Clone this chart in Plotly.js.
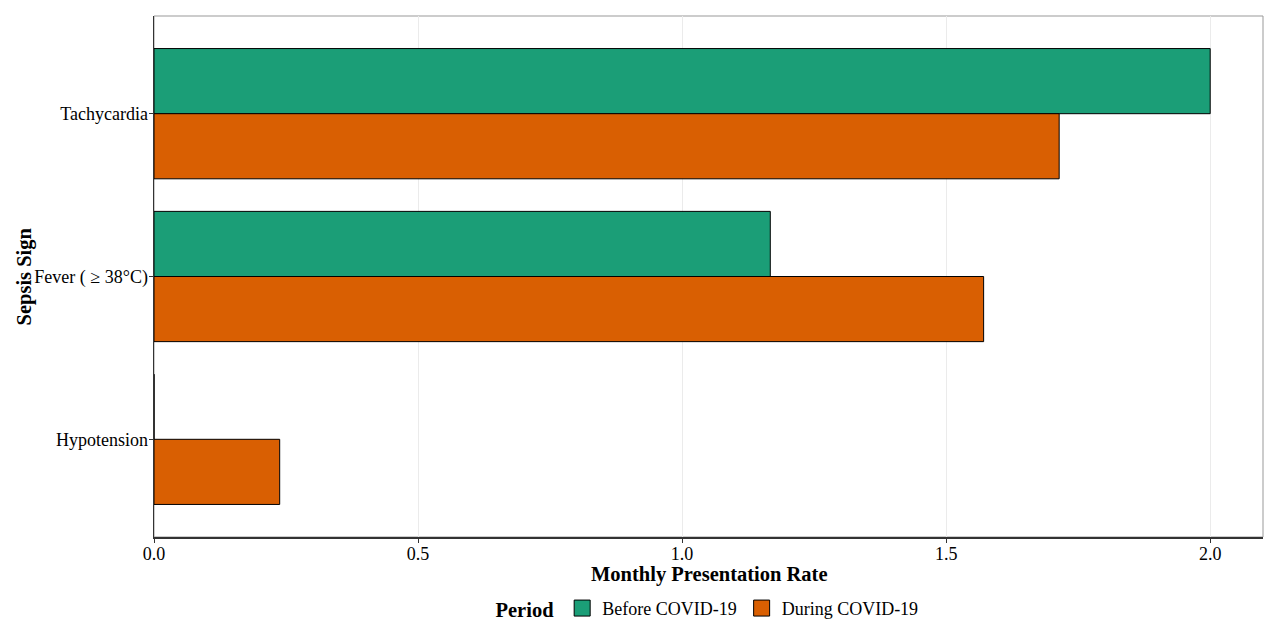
<!DOCTYPE html>
<html>
<head>
<meta charset="utf-8">
<script src="https://cdn.plot.ly/plotly-3.0.1.min.js"></script>
<style>html,body{margin:0;padding:0;background:#fff}#chart{width:1280px;height:640px}</style>
</head>
<body>
<div id="chart"></div>
<script>
const categories = ["Tachycardia", "Fever ( \u2265 38\u00b0C)", "Hypotension"];
const beforeCovid = [2.0, 1.167, 0];
const duringCovid = [1.714, 1.571, 0.238];
const seriesNames = ["Before COVID-19", "During COVID-19"];
const seriesColors = ["#1b9e77", "#d95f02"];
const xTicks = [0, 0.5, 1.0, 1.5, 2.0];
const xTickLabels = ["0.0", "0.5", "1.0", "1.5", "2.0"];
const xTitle = "Monthly Presentation Rate";
const yTitle = "Sepsis Sign";
const legendTitle = "Period";

const font = "Liberation Serif, Times New Roman, serif";

const traces = [beforeCovid, duringCovid].map((vals, i) => ({
  type: "bar",
  orientation: "h",
  name: seriesNames[i],
  y: categories,
  x: vals,
  marker: {color: seriesColors[i], line: {color: "#000", width: 1}},
  showlegend: false,
  hoverinfo: "x+y+name"
}));

// legend keys (square swatches like the reference)
seriesNames.forEach((nm, i) => {
  traces.push({
    type: "scatter", mode: "markers", name: nm,
    x: [null], y: [null],
    marker: {symbol: "square", size: 16, color: seriesColors[i], line: {color: "#000", width: 1}},
    showlegend: true, hoverinfo: "skip"
  });
});

const layout = {
  width: 1280, height: 640,
  margin: {l: 154, r: 17, t: 16, b: 103},
  paper_bgcolor: "#fff", plot_bgcolor: "#fff",
  font: {family: font, size: 18, color: "#000"},
  barmode: "group",
  bargap: 0.2,
  bargroupgap: 0,
  xaxis: {
    range: [0, 2.1],
    tickvals: xTicks, ticktext: xTickLabels,
    showgrid: true, gridcolor: "#ebebeb", gridwidth: 1,
    zeroline: false,
    showline: true, linecolor: "#333", linewidth: 1.5,
    ticks: "outside", ticklen: 4, tickcolor: "#333", tickwidth: 1,
    ticklabelstandoff: -4,
    tickfont: {family: font, size: 18, color: "#000"}
  },
  yaxis: {
    type: "category",
    categoryorder: "array", categoryarray: categories,
    range: [2.6, -0.6],
    showgrid: false, zeroline: false,
    showline: true, linecolor: "#333", linewidth: 1.5,
    ticks: "outside", ticklen: 4, tickcolor: "#333", tickwidth: 1,
    ticklabelstandoff: -3,
    tickfont: {family: font, size: 18, color: "#000"}
  },
  annotations: [
    {text: "<b>" + xTitle + "</b>", xref: "paper", yref: "paper", x: 0.5, y: -37 / 521,
     xanchor: "center", yanchor: "middle", showarrow: false,
     font: {family: font, size: 20.5, color: "#000"}},
    {text: "<b>" + yTitle + "</b>", xref: "paper", yref: "paper", x: -130 / 1109, y: 0.5,
     xanchor: "center", yanchor: "middle", showarrow: false, textangle: -90,
     font: {family: font, size: 20.5, color: "#000"}}
  ],
  shapes: [{
    type: "rect", xref: "paper", yref: "paper", x0: 0, x1: 1, y0: 0, y1: 1,
    line: {color: "#999", width: 1}, layer: "below"
  }],
  showlegend: true,
  legend: {
    orientation: "h", x: 0.5, xanchor: "center", y: -0.137, yanchor: "middle",
    title: {text: "<b>" + legendTitle + "</b>", font: {family: font, size: 20.5, color: "#000"}, side: "left"},
    font: {family: font, size: 18, color: "#000"},
    traceorder: "normal",
    itemsizing: "trace",
    itemwidth: 30
  }
};

Plotly.newPlot("chart", traces, layout, {displayModeBar: false, staticPlot: true});
</script>
</body>
</html>
